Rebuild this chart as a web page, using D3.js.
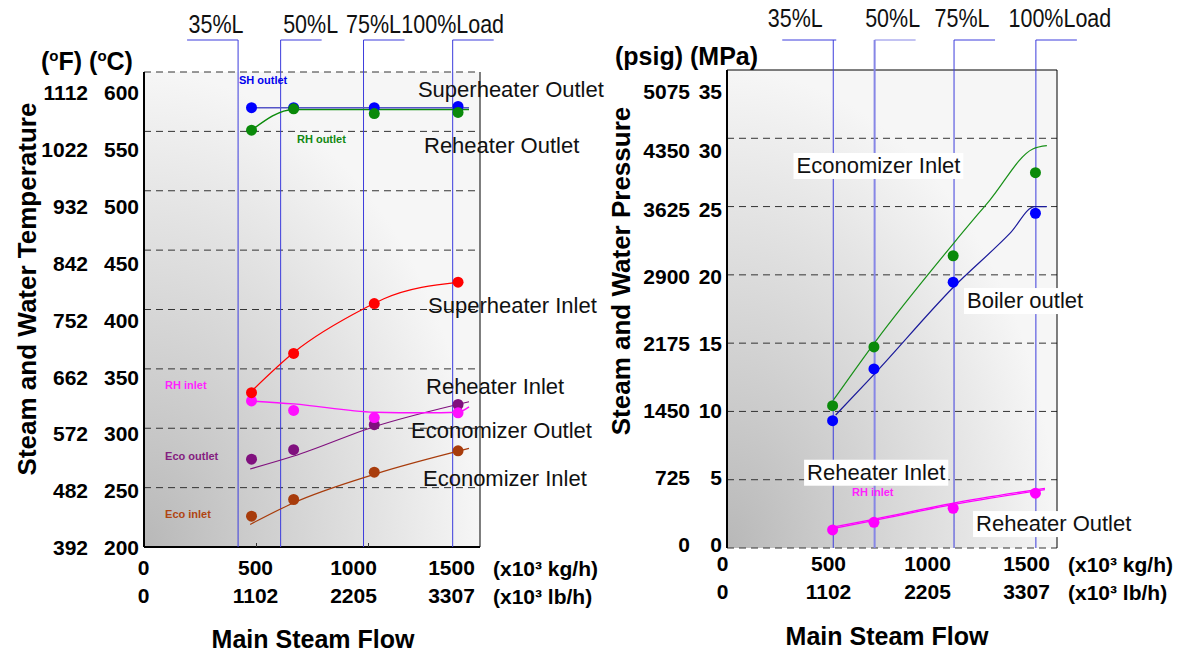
<!DOCTYPE html>
<html><head><meta charset="utf-8">
<script src="https://cdn.jsdelivr.net/npm/d3@7"></script>
<style>body{margin:0;background:#fff} svg{display:block}</style>
</head><body><svg id="c" width="1182" height="655"></svg>
<script>
// ---------- DATA ----------
const loadLabels = ["35%L","50%L","75%L","100%Load"];
const flowTicksKg = [0,500,1000,1500];
const flowTicksLb = ["0","1102","2205","3307"];
const pointFlows = [480,668,1028,1402];
const tempLoadFlows = [420,610,980,1378];
const pressLoadFlows = [483,671,1032,1404];
const tempTicksC = [200,250,300,350,400,450,500,550,600];
const tempTicksF = [392,482,572,662,752,842,932,1022,1112];
const pressTicksMPa = [0,5,10,15,20,25,30,35];
const pressTicksPsig = [0,725,1450,2175,2900,3625,4350,5075];

const shOutletPts = [570,570,570,571];
const rhOutletPts = [551,569,565,566];
const shInletPts = [330,363,405,423];
const rhInletPts = [323,315,309,313];
const ecoOutletPts = [274,282,303,320];
const ecoInletPts = [226,240,263,281];

const shOutletLine = [[480,570],[1451,570]];
const rhOutletLine = [[480,551],[668,568.5],[1451,568.5]];
const shInletLine = [[479,331],[670,364],[985,401],[1071,409],[1407,423]];
const rhInletLine = [[474,323],[669,320.5],[1028,313.5],[1250,313],[1402,313.5],[1451,318]];
const ecoOutletLine = [[474,265.7],[669,276.6],[1028,301.3],[1451,322.3]];
const ecoInletLine = [[474,219],[669,237.3],[1028,261.2],[1451,283]];

const boilerOutPts = [9.32,13.11,19.46,24.51];
const ecoInletPressPts = [10.42,14.72,21.40,27.48];
const rhPressPts = [1.32,1.88,2.91,4.01];
const boilerOutLine = [[494,9.74],[674,12.81],[1030,19.11],[1288,23.07],[1399,25.0],[1454,25.0]];
const ecoInletPressLine = [[484,10.84],[674,15.1],[1030,22.31],[1195,25.48],[1390,29.22],[1454,29.46]];
const rhInletPressLine = [[480,1.52],[665,2.10],[1024,3.27],[1445,4.37]];
const rhOutletPressLine = [[480,1.42],[665,2.0],[1024,3.17],[1445,4.27]];

// ---------- DRAW ----------
const svg = d3.select("#c");
const defs = svg.append("defs");
const g0 = defs.append("radialGradient").attr("id","bg").attr("cx",0).attr("cy",1).attr("r",1).attr("fx",0).attr("fy",1);
[[0,"#b8b8b8"],[0.3,"#cbcbcb"],[0.7,"#e3e3e3"],[1,"#f6f6f6"]].forEach(s=>g0.append("stop").attr("offset",s[0]).attr("stop-color",s[1]));

const BOLD = "'Liberation Sans', Arial, sans-serif";
const line = (x,y)=>d3.line().x(d=>x(d[0])).y(d=>y(d[1])).curve(d3.curveMonotoneX);

function panel(cfg){
  const {x,y,ylab,xlab,box} = cfg;
  const gp = svg.append("g");
  gp.append("rect").attr("x",box.x0).attr("y",box.y0).attr("width",box.x1-box.x0).attr("height",box.y1-box.y0).attr("fill","url(#bg)");
  // grid
  gp.append("g").selectAll("line").data(cfg.grid).join("line")
    .attr("x1",box.x0).attr("x2",box.x1).attr("y1",d=>y(d)).attr("y2",d=>y(d))
    .attr("stroke","#333").attr("stroke-width",1).attr("stroke-dasharray","7,5");
  // frame
  const fr = gp.append("g").attr("stroke","#000");
  fr.append("line").attr("x1",box.x0).attr("x2",box.x0).attr("y1",box.y0).attr("y2",box.y1).attr("stroke-width",2);
  fr.append("line").attr("x1",box.x1).attr("x2",box.x1).attr("y1",box.y0).attr("y2",box.y1).attr("stroke-width",1);
  if(cfg.solidTop) fr.append("line").attr("x1",box.x0).attr("x2",box.x1).attr("y1",box.y0).attr("y2",box.y0).attr("stroke-width",1);
  if(cfg.solidBottom) fr.append("line").attr("x1",box.x0).attr("x2",box.x1).attr("y1",box.y1).attr("y2",box.y1).attr("stroke-width",2);
  if(cfg.innerTicks){
    gp.append("g").attr("transform",`translate(0,${box.y1})`)
      .call(d3.axisBottom(x).tickValues(cfg.innerTicks).tickSizeInner(-4).tickSizeOuter(0).tickFormat(""))
      .call(a=>a.select(".domain").remove()).selectAll("line").attr("stroke","#333");
  }
  // load lines
  const lg = gp.append("g");
  cfg.loads.forEach((f,i)=>{
    const lx = x(f);
    const thick = cfg.lightIdx===i;
    const col = thick ? "#8686e6" : "#3c3cdc";
    lg.append("line").attr("x1",lx).attr("x2",lx).attr("y1",40).attr("y2",box.y1).attr("stroke",col).attr("stroke-width",thick?2:1);
    const seg = i===0 ? [lx-51, lx+ (cfg.firstSegExtra||0)] : [lx, lx+41];
    lg.append("line").attr("x1",seg[0]).attr("x2",seg[1]).attr("y1",40).attr("y2",40).attr("stroke",col).attr("stroke-width",1);
    lg.append("text").attr("transform",`translate(${lx+cfg.loadLabelOff[i]},${cfg.loadLabelY}) scale(0.86,1)`).attr("text-anchor","middle")
      .attr("font-family","'Liberation Sans', Arial, sans-serif").attr("font-size",25).attr("fill","#111").text(loadLabels[i]);
  });
  // y tick labels
  const ya = gp.append("g").attr("transform",`translate(${cfg.yLabRight2},0)`)
    .call(d3.axisLeft(ylab).tickValues(cfg.yTicks).tickSize(0).tickPadding(0).tickFormat(d3.format("d")));
  const ya2 = gp.append("g").attr("transform",`translate(${cfg.yLabRight1},0)`)
    .call(d3.axisLeft(ylab).tickValues(cfg.yTicks).tickSize(0).tickPadding(0).tickFormat((d,i)=>cfg.yTicks2[i]));
  [ya,ya2].forEach(a=>{a.select(".domain").remove(); a.selectAll("text").attr("font-family",BOLD).attr("font-weight","bold").attr("font-size",21).attr("fill","#000");});
  // x tick labels
  const xa = gp.append("g").attr("transform",`translate(0,${cfg.xRow1-16})`)
    .call(d3.axisBottom(xlab).tickValues(flowTicksKg).tickSize(0).tickPadding(0).tickFormat(d3.format("d")));
  const xa2 = gp.append("g").attr("transform",`translate(0,${cfg.xRow2-16})`)
    .call(d3.axisBottom(xlab).tickValues(flowTicksKg).tickSize(0).tickPadding(0).tickFormat((d,i)=>flowTicksLb[i]));
  [xa,xa2].forEach(a=>{a.select(".domain").remove(); a.selectAll("text").attr("font-family",BOLD).attr("font-weight","bold").attr("font-size",21).attr("fill","#000").attr("dy","0.71em");});
  // units
  const u = gp.append("g").attr("font-family",BOLD).attr("font-weight","bold").attr("font-size",21);
  u.append("text").attr("x",cfg.unitX).attr("y",cfg.xRow1).text("(x10³ kg/h)");
  u.append("text").attr("x",cfg.unitX).attr("y",cfg.xRow2).text("(x10³ lb/h)");
  // titles
  gp.append("text").attr("x",cfg.xTitleX).attr("y",cfg.xTitleY).attr("text-anchor","middle")
    .attr("font-family",BOLD).attr("font-weight","bold").attr("font-size",25).text("Main Steam Flow");
  gp.append("text").attr("transform",`translate(${cfg.yTitle[0]},${cfg.yTitle[1]}) rotate(-90)`).attr("text-anchor","middle")
    .attr("dominant-baseline","central").attr("font-family",BOLD).attr("font-weight","bold").attr("font-size",26).text(cfg.yTitleText);
  return gp;
}

// ---- left panel ----
const LB = {x0:144,x1:480,y0:72,y1:547};
const xL = d3.scaleLinear().domain([0,1500]).range([LB.x0,LB.x1]);
const yL = d3.scaleLinear().domain([200,600]).range([LB.y1,LB.y0]);
const yLlab = d3.scaleLinear().domain([200,600]).range([548,93]);
const xLlab = d3.scaleLinear().domain([0,500,1500]).range([143,255,451]);
const gl = panel({x:xL,y:yL,ylab:yLlab,xlab:xLlab,box:LB,grid:tempTicksC.slice(1),solidTop:false,solidBottom:true,
  innerTicks:[500,1000],loads:tempLoadFlows,lightIdx:-1,firstSegExtra:0,loadLabelOff:[-22,30,10,0],loadLabelY:33,
  yTicks:tempTicksC,yTicks2:tempTicksF,yLabRight1:88,yLabRight2:139,xRow1:576,xRow2:604,unitX:493,
  xTitleX:313,xTitleY:648,yTitle:[27,289],yTitleText:"Steam and Water Temperature"});

function series(g,x,y,lineData,pts,col,lineCol,w){
  g.append("path").attr("d",line(x,y)(lineData)).attr("fill","none").attr("stroke",lineCol||col).attr("stroke-width",w||1.2);
  if(pts) g.append("g").selectAll("circle").data(pts).join("circle").attr("cx",(d,i)=>x(pointFlows[i])).attr("cy",d=>y(d)).attr("r",5.5).attr("fill",col);
}
const sl = gl.append("g");
series(sl,xL,yL,ecoInletLine,ecoInletPts,"#a83c0c");
series(sl,xL,yL,ecoOutletLine,ecoOutletPts,"#80107e");
series(sl,xL,yL,rhInletLine,rhInletPts,"#ff10ff",null,1.4);
series(sl,xL,yL,shInletLine,shInletPts,"#ff0000");
series(sl,xL,yL,rhOutletLine,null,"#0a8a0a",null,1.5);
series(sl,xL,yL,shOutletLine,shOutletPts,"#0000ff","#5555c8",1.5);
sl.append("g").selectAll("circle").data(rhOutletPts).join("circle").attr("cx",(d,i)=>xL(pointFlows[i])).attr("cy",d=>yL(d)).attr("r",5.5).attr("fill","#0a8a0a");

const smallL = [["SH outlet",424,590,"#0000ee"],["RH outlet",683,540.2,"#118811"],["RH inlet",94,333,"#ff22ff"],["Eco outlet",94,273.3,"#84207f"],["Eco inlet",94,224.4,"#b04512"]];
gl.append("g").selectAll("text").data(smallL).join("text").attr("x",d=>xL(d[1])).attr("y",d=>yL(d[2]))
  .attr("fill",d=>d[3]).attr("font-family",BOLD).attr("font-weight","bold").attr("font-size",11).text(d=>d[0]);
const bigL = [["Superheater Outlet",1223,579],["Reheater Outlet",1250,531.8],["Superheater Inlet",1268,397],["Reheater Inlet",1259,328.8],["Economizer Outlet",1192,291.8],["Economizer Inlet",1245.5,251.4]];
gl.append("g").selectAll("text").data(bigL).join("text").attr("x",d=>xL(d[1])).attr("y",d=>yL(d[2]))
  .attr("font-family",BOLD).attr("font-size",22).attr("fill","#111").text(d=>d[0]);
// units header
const hl = gl.append("text").attr("x",41).attr("y",70).attr("font-family",BOLD).attr("font-weight","bold").attr("font-size",25);
hl.append("tspan").text("(");hl.append("tspan").attr("font-size",15).attr("dy",-9).text("o");hl.append("tspan").attr("dy",9).text("F) (");
hl.append("tspan").attr("font-size",15).attr("dy",-9).text("o");hl.append("tspan").attr("dy",9).text("C)");

// ---- right panel ----
const RB = {x0:727,x1:1057,y0:70,y1:548};
const xR = d3.scaleLinear().domain([0,1500]).range([RB.x0,RB.x1]);
const yR = d3.scaleLinear().domain([0,35]).range([RB.y1,RB.y0]);
const yRlab = d3.scaleLinear().domain([0,25,35]).range([545,210,92]);
const xRlab = d3.scaleLinear().domain([0,500,1500]).range([722,828,1026]);
const gr = panel({x:xR,y:yR,ylab:yRlab,xlab:xRlab,box:RB,grid:pressTicksMPa.slice(0,7),solidTop:true,solidBottom:false,
  innerTicks:null,loads:pressLoadFlows,lightIdx:1,firstSegExtra:3,loadLabelOff:[-38,18,8,24],loadLabelY:27,
  yTicks:pressTicksMPa,yTicks2:pressTicksPsig,yLabRight1:690,yLabRight2:722,xRow1:572,xRow2:600,unitX:1068,
  xTitleX:887,xTitleY:645,yTitle:[621,271],yTitleText:"Steam and Water Pressure"});
const sr = gr.append("g");
series(sr,xR,yR,rhOutletPressLine,null,"#ff00ff",null,1.3);
series(sr,xR,yR,rhInletPressLine,rhPressPts,"#ff00ff",null,1.3);
series(sr,xR,yR,ecoInletPressLine,ecoInletPressPts,"#0a8a0a","#189018",1.2);
series(sr,xR,yR,boilerOutLine,boilerOutPts,"#0000ff","#1a1a9a",1.2);
gr.append("text").attr("x",xR(568)).attr("y",yR(3.8)).attr("fill","#ff22ff").attr("font-family",BOLD).attr("font-weight","bold").attr("font-size",11).text("RH inlet");
const bigR = [["Economizer Inlet",316,27.46],["Boiler outlet",1091,17.57],["Reheater Inlet",364,5.0],["Reheater Outlet",1132,1.24]];
bigR.forEach(d=>{
  const t = gr.append("text").attr("x",xR(d[1])).attr("y",yR(d[2])).attr("font-family",BOLD).attr("font-size",22).attr("fill","#111").text(d[0]);
  const b = t.node().getBBox();
  gr.insert("rect",()=>t.node()).attr("x",b.x-3).attr("y",b.y).attr("width",b.width+6).attr("height",b.height+1).attr("fill","#fff");
});
gr.append("text").attr("x",615).attr("y",65).attr("font-family",BOLD).attr("font-weight","bold").attr("font-size",25).text("(psig) (MPa)");
</script></body></html>
